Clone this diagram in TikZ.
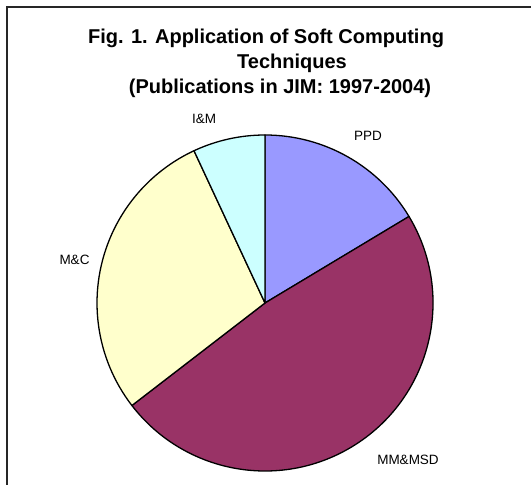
\documentclass[tikz,border=0pt]{standalone}
\usepackage{fontspec}
\setmainfont{Liberation Sans}
\begin{document}
\begin{tikzpicture}[x=1pt,y=1pt,
  titletext/.style={font=\fontsize{20}{25}\selectfont\bfseries, anchor=base, inner sep=0pt},
  slicelabel/.style={font=\fontsize{13.5}{13.5}\selectfont, anchor=center, inner sep=0pt},
  slice/.style={draw=black, line width=1.3pt, line join=round}]
\definecolor{ppd}{HTML}{9999FF}
\definecolor{mmsd}{HTML}{993366}
\definecolor{mc}{HTML}{FFFFCC}
\definecolor{im}{HTML}{CCFFFF}
\useasboundingbox (0,0) rectangle (531,485);
% chart frame (left and top edges)
\draw[line width=1.5pt, black!85] (7,0) -- (7,478) -- (531,478);
% title
\node[titletext] (t1) at (266,441.5) {Fig. 1. Application of Soft Computing};
\node[titletext] (t2) at (292,416.5) {Techniques};
\node[titletext] (t3) at (280,391.5) {(Publications in JIM: 1997-2004)};
% pie
\coordinate (c) at (265,182);
\def\r{168}
\filldraw[slice, fill=ppd] (c) -- ++(90:\r) arc[start angle=90, end angle=31, radius=\r] -- cycle;
\filldraw[slice, fill=mmsd] (c) -- ++(31:\r) arc[start angle=31, end angle=-142.4, radius=\r] -- cycle;
\filldraw[slice, fill=mc] (c) -- ++(-142.4:\r) arc[start angle=-142.4, end angle=-245, radius=\r] -- cycle;
\filldraw[slice, fill=im] (c) -- ++(115:\r) arc[start angle=115, end angle=90, radius=\r] -- cycle;
% slice labels
\node[slicelabel] (lim) at (204,366) {I\&M};
\node[slicelabel] (lppd) at (368,349) {PPD};
\node[slicelabel] (lmc) at (74.5,225) {M\&C};
\node[slicelabel] (lmm) at (408,25.5) {MM\&MSD};
\end{tikzpicture}
\end{document}
